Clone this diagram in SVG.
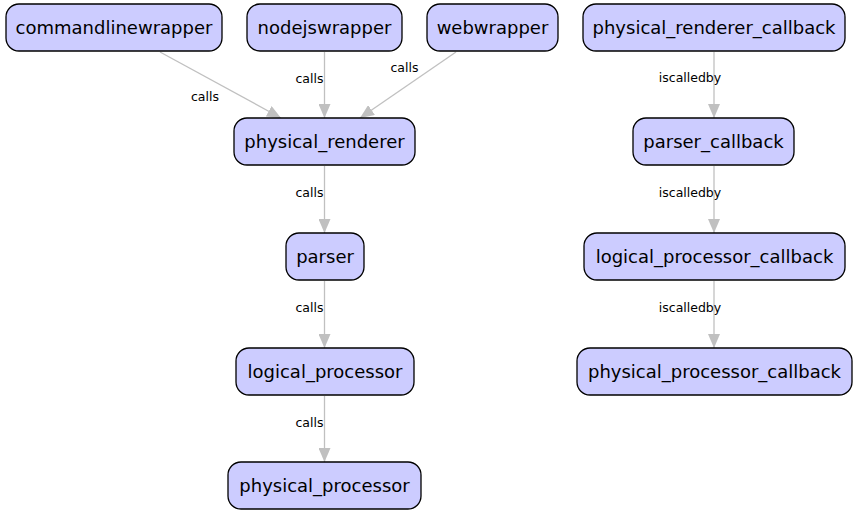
<svg xmlns="http://www.w3.org/2000/svg" width="857" height="517" viewBox="0 0 857 517">
<style>
.node rect{fill:#ccccff;stroke:#000;stroke-width:1.3}
.node text{font-family:"DejaVu Sans",sans-serif;font-size:18px;fill:#000;text-anchor:middle}
.edge line{stroke:#c0c0c0;stroke-width:1.3;fill:none}
.edge text{font-family:"DejaVu Sans",sans-serif;font-size:12.5px;fill:#000;text-anchor:middle}
</style>
<defs>
<marker id="arr" viewBox="0 0 14 12" refX="14" refY="6" markerWidth="14" markerHeight="12" markerUnits="userSpaceOnUse" orient="auto">
<path d="M0,0 L14,6 L0,12 Z" fill="#c0c0c0"/>
</marker>
</defs>
<rect width="857" height="517" fill="#fff"/>
<g id="connectors" class="edge">
<line x1="160" y1="52" x2="281" y2="118" marker-end="url(#arr)"/>
<text x="205" y="101">calls</text>
<line x1="324.5" y1="52" x2="324.5" y2="118" marker-end="url(#arr)"/>
<text x="309.5" y="83">calls</text>
<line x1="456" y1="52" x2="360" y2="118" marker-end="url(#arr)"/>
<text x="404.5" y="72">calls</text>
<line x1="324.5" y1="166" x2="324.5" y2="233" marker-end="url(#arr)"/>
<text x="309.5" y="197">calls</text>
<line x1="324.5" y1="281" x2="324.5" y2="348" marker-end="url(#arr)"/>
<text x="309.5" y="312">calls</text>
<line x1="324.5" y1="396" x2="324.5" y2="462" marker-end="url(#arr)"/>
<text x="309.5" y="427">calls</text>
<line x1="714" y1="52" x2="714" y2="118" marker-end="url(#arr)"/>
<text x="690" y="82">iscalledby</text>
<line x1="714" y1="166" x2="714" y2="233" marker-end="url(#arr)"/>
<text x="690" y="197">iscalledby</text>
<line x1="714" y1="281" x2="714" y2="348" marker-end="url(#arr)"/>
<text x="690" y="312">iscalledby</text>
</g>
<g id="commandlinewrapper" class="node"><rect x="6" y="4" width="216" height="47" rx="13"/><text x="114" y="34">commandlinewrapper</text></g>
<g id="nodejswrapper" class="node"><rect x="247" y="4" width="155" height="47" rx="13"/><text x="324.5" y="34">nodejswrapper</text></g>
<g id="webwrapper" class="node"><rect x="427" y="4" width="131" height="47" rx="13"/><text x="492.5" y="34">webwrapper</text></g>
<g id="physical_renderer_callback" class="node"><rect x="583" y="4" width="262" height="47" rx="13"/><text x="714" y="34">physical_renderer_callback</text></g>
<g id="physical_renderer" class="node"><rect x="234" y="118" width="181" height="47" rx="13"/><text x="324.5" y="148">physical_renderer</text></g>
<g id="parser_callback" class="node"><rect x="633" y="118" width="161" height="47" rx="13"/><text x="713.5" y="148">parser_callback</text></g>
<g id="parser" class="node"><rect x="286" y="233" width="78" height="47" rx="13"/><text x="325" y="263">parser</text></g>
<g id="logical_processor_callback" class="node"><rect x="584" y="233" width="261" height="47" rx="13"/><text x="714.5" y="263">logical_processor_callback</text></g>
<g id="logical_processor" class="node"><rect x="236" y="348" width="178" height="47" rx="13"/><text x="325" y="378">logical_processor</text></g>
<g id="physical_processor_callback" class="node"><rect x="577" y="348" width="275" height="47" rx="13"/><text x="714.5" y="378">physical_processor_callback</text></g>
<g id="physical_processor" class="node"><rect x="228" y="462" width="193" height="47" rx="13"/><text x="324.5" y="492">physical_processor</text></g>
</svg>
